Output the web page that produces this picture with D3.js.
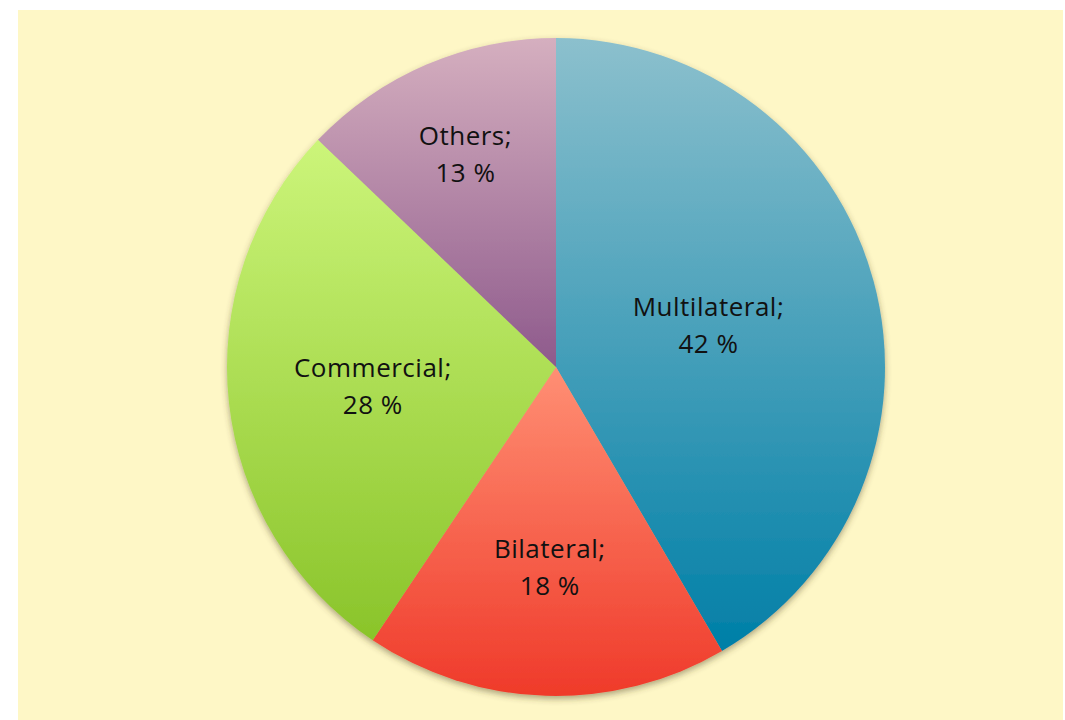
<!DOCTYPE html>
<html>
<head>
<meta charset="utf-8">
<script src="https://cdn.jsdelivr.net/npm/d3@7"></script>
<style>
  html, body { margin: 0; padding: 0; background: #ffffff; }
  svg { display: block; }
</style>
</head>
<body>
<div id="chart"></div>
<script>
// Debt composition by creditor type
const categories = ["Multilateral", "Bilateral", "Commercial", "Others"];
const shares = [42, 18, 28, 13];
const valueLabels = ["42 %", "18 %", "28 %", "13 %"];

// Slice styling: gradient from light (top) to dark (bottom)
const gradientTop = ["#8cc0cd", "#ff8f74", "#ccf57a", "#d5afbf"];
const gradientBottom = ["#007fa7", "#ef3a2a", "#8ac42a", "#8e5a8c"];
// Label distance from the centre, as a fraction of the radius
const labelRadius = [0.48, 0.61, 0.56, 0.70];

const width = 1065, height = 720;
const cx = 556, cy = 367, radius = 329;

const svg = d3.select("#chart").append("svg")
  .attr("width", width).attr("height", height);

const defs = svg.append("defs");

const shadow = defs.append("filter").attr("id", "pieShadow")
  .attr("x", "-10%").attr("y", "-10%").attr("width", "120%").attr("height", "120%");
shadow.append("feDropShadow")
  .attr("dx", 0).attr("dy", 3).attr("stdDeviation", 3)
  .attr("flood-color", "#4a4020").attr("flood-opacity", 0.45);

categories.forEach((c, i) => {
  const g = defs.append("linearGradient").attr("id", "grad" + i)
    .attr("x1", 0).attr("y1", 0).attr("x2", 0).attr("y2", 1);
  g.append("stop").attr("offset", "0%").attr("stop-color", gradientTop[i]);
  g.append("stop").attr("offset", "100%").attr("stop-color", gradientBottom[i]);
});

// Chart area background
svg.append("rect")
  .attr("x", 18).attr("y", 10)
  .attr("width", 1045).attr("height", 710)
  .attr("fill", "#fef7c6");

const pie = d3.pie().sort(null).value(d => d);
const arcs = pie(shares);
const arc = d3.arc().innerRadius(0).outerRadius(radius);

const g = svg.append("g").attr("transform", `translate(${cx},${cy})`);

g.append("g").attr("filter", "url(#pieShadow)")
  .selectAll("path")
  .data(arcs)
  .join("path")
  .attr("d", arc)
  .attr("fill", (d, i) => `url(#grad${i})`);

const labels = g.append("g")
  .attr("font-family", "'Open Sans', Lato, sans-serif")
  .attr("font-size", 26)
  .attr("letter-spacing", 0.5)
  .style("font-variant-ligatures", "none")
  .attr("fill", "#111")
  .attr("text-anchor", "middle");

arcs.forEach((d, i) => {
  const la = d3.arc().innerRadius(radius * labelRadius[i]).outerRadius(radius * labelRadius[i]);
  const [x, y] = la.centroid(d);
  const t = labels.append("text").attr("transform", `translate(${x},${y})`);
  t.append("tspan").attr("x", 0).attr("dy", -10).text(categories[i] + ";");
  t.append("tspan").attr("x", 0).attr("dy", 37).text(valueLabels[i]);
});
</script>
</body>
</html>
